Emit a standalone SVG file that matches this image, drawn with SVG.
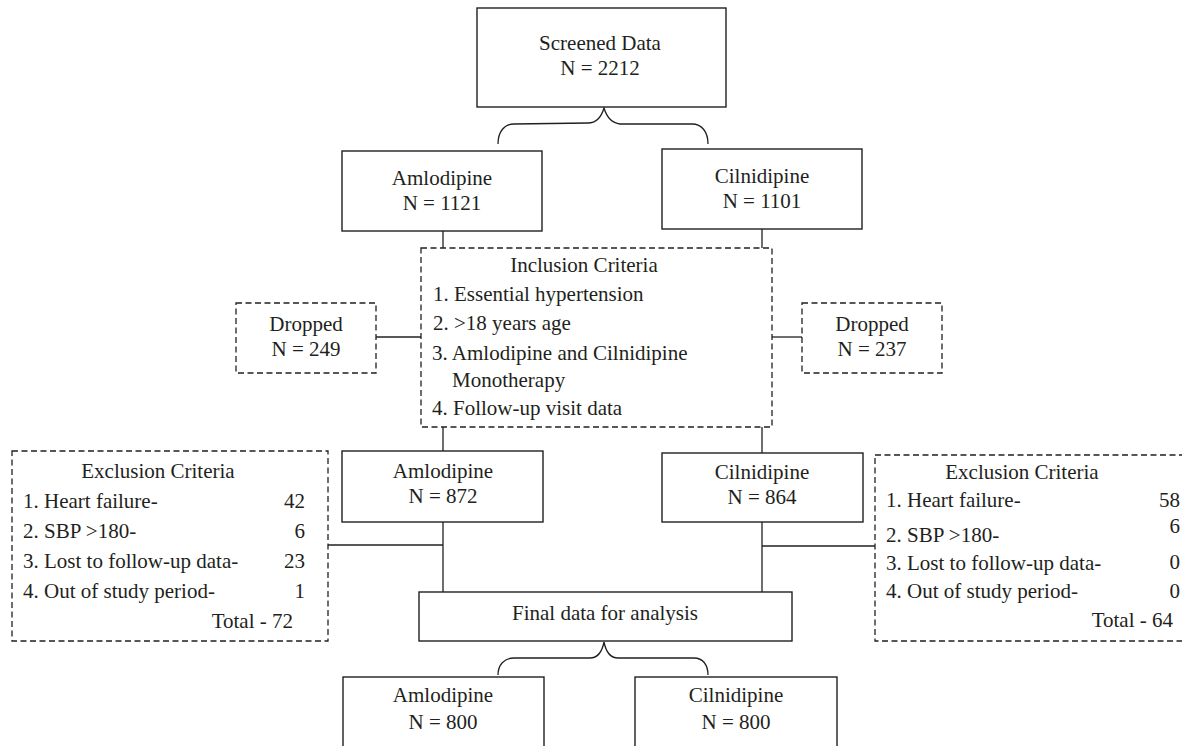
<svg xmlns="http://www.w3.org/2000/svg" width="1182" height="746" viewBox="0 0 1182 746">
<style>
  .box{fill:#fff;stroke:#231f20;stroke-width:1.4}
  .dash{fill:#fff;stroke:#231f20;stroke-width:1.3;stroke-dasharray:6 3.5}
  .ln{fill:none;stroke:#231f20;stroke-width:1.3}
  text{font-family:"Liberation Serif","Times New Roman",serif;font-size:21px;fill:#231f20}
  .c{text-anchor:middle}
  .r{text-anchor:end}
</style>
<rect width="1182" height="746" fill="#fff"/>
<g id="connectors">
  <path class="ln" d="M498,144 C498,132 504,124 514,124 L588,123 C596,123 601,118 604,108 C607,118 612,123 620,124 L692,124 C702,124 708,132 708,144"/>
  <path class="ln" d="M443,231 V248"/>
  <path class="ln" d="M762,229 V248"/>
  <path class="ln" d="M376,337 H421"/>
  <path class="ln" d="M772,337 H802"/>
  <path class="ln" d="M443,427 V451"/>
  <path class="ln" d="M762,427 V453"/>
  <path class="ln" d="M443,522 V592"/>
  <path class="ln" d="M328,545 H443"/>
  <path class="ln" d="M762,522 V592"/>
  <path class="ln" d="M762,546 H875"/>
  <path class="ln" d="M498,675 C498,665 504,658 514,658 L590,658 C597,658 602,652 604,642 C606,652 611,658 618,658 L694,658 C703,658 708,665 708,675"/>
</g>
<g id="screened">
  <rect class="box" x="477" y="8" width="249" height="99"/>
  <text class="c" x="600" y="50">Screened Data</text>
  <text class="c" x="600" y="75">N = 2212</text>
</g>
<g id="amlodipine1">
  <rect class="box" x="342" y="151" width="200" height="80"/>
  <text class="c" x="442" y="185">Amlodipine</text>
  <text class="c" x="442" y="210">N = 1121</text>
</g>
<g id="cilnidipine1">
  <rect class="box" x="662" y="149" width="200" height="80"/>
  <text class="c" x="762" y="183">Cilnidipine</text>
  <text class="c" x="762" y="208">N = 1101</text>
</g>
<g id="inclusion">
  <rect class="dash" x="421" y="248" width="351" height="179"/>
  <text class="c" x="584" y="272">Inclusion Criteria</text>
  <text x="433" y="301">1. Essential hypertension</text>
  <text x="433" y="330">2. &gt;18 years age</text>
  <text x="432" y="360">3. Amlodipine and Cilnidipine</text>
  <text x="452" y="387">Monotherapy</text>
  <text x="432" y="415">4. Follow-up visit data</text>
</g>
<g id="dropped-left">
  <rect class="dash" x="236" y="303" width="140" height="70"/>
  <text class="c" x="306" y="331">Dropped</text>
  <text class="c" x="306" y="356">N = 249</text>
</g>
<g id="dropped-right">
  <rect class="dash" x="802" y="303" width="140" height="70"/>
  <text class="c" x="872" y="331">Dropped</text>
  <text class="c" x="872" y="356">N = 237</text>
</g>
<g id="amlodipine2">
  <rect class="box" x="342" y="451" width="201" height="71"/>
  <text class="c" x="443" y="478">Amlodipine</text>
  <text class="c" x="443" y="503">N = 872</text>
</g>
<g id="cilnidipine2">
  <rect class="box" x="662" y="453" width="201" height="69"/>
  <text class="c" x="762" y="479">Cilnidipine</text>
  <text class="c" x="762" y="504">N = 864</text>
</g>
<g id="exclusion-left">
  <rect class="dash" x="12" y="451" width="316" height="190"/>
  <text class="c" x="158" y="478">Exclusion Criteria</text>
  <text x="23" y="508">1. Heart failure-</text>
  <text class="r" x="305" y="508">42</text>
  <text x="23" y="538">2. SBP &gt;180-</text>
  <text class="r" x="305" y="538">6</text>
  <text x="23" y="568">3. Lost to follow-up data-</text>
  <text class="r" x="305" y="568">23</text>
  <text x="23" y="598">4. Out of study period-</text>
  <text class="r" x="305" y="598">1</text>
  <text class="r" x="293" y="628">Total - 72</text>
</g>
<g id="exclusion-right">
  <rect class="dash" x="875" y="455" width="322" height="186"/>
  <text class="c" x="1022" y="479">Exclusion Criteria</text>
  <text x="886" y="507">1. Heart failure-</text>
  <text class="r" x="1180" y="507">58</text>
  <text x="886" y="542">2. SBP &gt;180-</text>
  <text class="r" x="1180" y="533">6</text>
  <text x="886" y="570">3. Lost to follow-up data-</text>
  <text class="r" x="1180" y="569">0</text>
  <text x="886" y="598">4. Out of study period-</text>
  <text class="r" x="1180" y="598">0</text>
  <text class="r" x="1173" y="627">Total - 64</text>
</g>
<g id="final">
  <rect class="box" x="419" y="592" width="373" height="49"/>
  <text class="c" x="605" y="620">Final data for analysis</text>
</g>
<g id="amlodipine3">
  <rect class="box" x="343" y="677" width="201" height="80"/>
  <text class="c" x="443" y="702">Amlodipine</text>
  <text class="c" x="443" y="729">N = 800</text>
</g>
<g id="cilnidipine3">
  <rect class="box" x="635" y="677" width="202" height="80"/>
  <text class="c" x="736" y="702">Cilnidipine</text>
  <text class="c" x="736" y="729">N = 800</text>
</g>
</svg>
